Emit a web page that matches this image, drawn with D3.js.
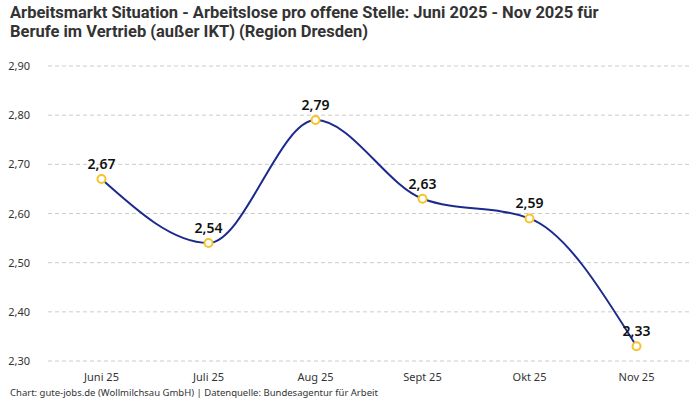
<!DOCTYPE html>
<html>
<head>
<meta charset="utf-8">
<script src="https://cdn.jsdelivr.net/npm/d3@7"></script>
<style>
  body { margin: 0; background: #fff; }
  text { font-family: "Noto Sans", "Open Sans", sans-serif; }
</style>
</head>
<body>
<div id="chart"></div>
<script>
const months = ["Juni 25", "Juli 25", "Aug 25", "Sept 25", "Okt 25", "Nov 25"];
const values = [2.67, 2.54, 2.79, 2.63, 2.59, 2.33];
const yTicks = [2.3, 2.4, 2.5, 2.6, 2.7, 2.8, 2.9];

const width = 700, height = 400;
const margin = { top: 66, right: 10, bottom: 39, left: 48 };

const svg = d3.select("#chart")
    .append("svg")
    .attr("width", width)
    .attr("height", height);

const fmt = v => d3.format(".2f")(v).replace(".", ",");

// Title
const title = svg.append("text")
    .attr("x", 10)
    .attr("y", 18)
    .style("font-family", "'Liberation Sans Narrow', 'Roboto', sans-serif")
    .style("font-size", "16.5px")
    .style("font-weight", "bold")
    .attr("fill", "#333");
title.append("tspan").attr("x", 10).text("Arbeitsmarkt Situation - Arbeitslose pro offene Stelle: Juni 2025 - Nov 2025 für");
title.append("tspan").attr("x", 10).attr("dy", 19).text("Berufe im Vertrieb (außer IKT) (Region Dresden)");

// Scales
const x = d3.scaleBand()
    .domain(months)
    .range([margin.left, width - margin.right])
    .padding(0);

const y = d3.scaleLinear()
    .domain([2.3, 2.9])
    .range([height - margin.bottom, margin.top]);

// Grid lines
svg.append("g")
    .selectAll("line")
    .data(yTicks)
    .enter().append("line")
    .attr("x1", margin.left)
    .attr("x2", width - margin.right)
    .attr("y1", d => y(d))
    .attr("y2", d => y(d))
    .attr("stroke", "#ccc")
    .attr("stroke-dasharray", "4,3");

// Y axis
const yAxis = svg.append("g")
    .attr("transform", `translate(${margin.left - 15},0)`)
    .call(d3.axisLeft(y).tickValues(yTicks).tickFormat(fmt).tickSize(0));
yAxis.select(".domain").remove();
yAxis.selectAll("text")
    .attr("fill", "#333")
    .style("font-size", "11px");

// X axis
const xAxis = svg.append("g")
    .attr("transform", `translate(0,${height - margin.bottom + 9})`)
    .call(d3.axisBottom(x).tickSize(0));
xAxis.select(".domain").remove();
xAxis.selectAll("text")
    .attr("fill", "#333")
    .style("font-size", "11px");

const cx = d => x(d) + x.bandwidth() / 2;

// Line
const line = d3.line()
    .x((d, i) => cx(months[i]))
    .y(d => y(d))
    .curve(d3.curveMonotoneX);

svg.append("path")
    .datum(values)
    .attr("d", line)
    .attr("fill", "none")
    .attr("stroke", "#1b2a8c")
    .attr("stroke-width", 2);

// Points
svg.selectAll(".pt")
    .data(values)
    .enter().append("circle")
    .attr("class", "pt")
    .attr("cx", (d, i) => cx(months[i]))
    .attr("cy", d => y(d))
    .attr("r", 4)
    .attr("fill", "#fff")
    .attr("stroke", "#f6c32c")
    .attr("stroke-width", 2);

// Value labels
svg.selectAll(".lbl")
    .data(values)
    .enter().append("text")
    .attr("class", "lbl")
    .attr("x", (d, i) => cx(months[i]))
    .attr("y", d => y(d) - 10)
    .attr("text-anchor", "middle")
    .attr("fill", "#111")
    .style("font-size", "14px")
    .style("font-weight", "600")
    .text(fmt);

// Footer
svg.append("text")
    .attr("x", 10)
    .attr("y", 396)
    .attr("fill", "#333")
    .style("font-size", "9.5px")
    .text("Chart: gute-jobs.de (Wollmilchsau GmbH) | Datenquelle: Bundesagentur für Arbeit");
</script>
</body>
</html>
